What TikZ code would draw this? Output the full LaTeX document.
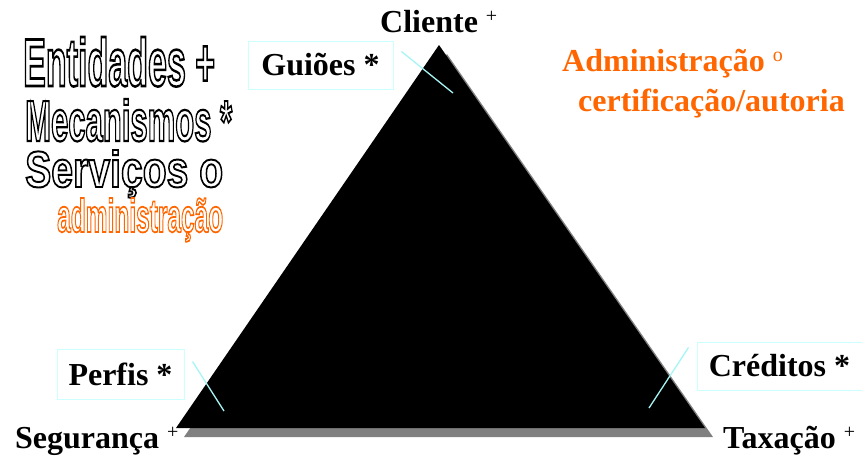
\documentclass[tikz,border=0pt]{standalone}
\usepackage{fontspec}
\setmainfont{Liberation Serif}
\newfontfamily\hollowfont{Liberation Sans}
\usepackage{graphicx}
\definecolor{orangetxt}{HTML}{FF6600}
\definecolor{boxcyan}{HTML}{CCFFFF}
\definecolor{linecyan}{HTML}{A6F5F5}
% small raised mark after a word
\newcommand{\mrk}[1]{\raisebox{10pt}{\fontsize{20}{20}\selectfont\mdseries #1}}
% outlined condensed letters: width, height, text
\newcommand{\hollow}[3]{\resizebox{#1}{#2}{\hollowfont\bfseries\special{pdf:literal direct 1 Tr 0.38 w}#3\special{pdf:literal direct 0 Tr}}}
\tikzset{
	vertex/.style={font=\fontsize{32}{36}\selectfont\bfseries, inner sep=0pt, anchor=base west},
	tagbox/.style={draw=boxcyan, line width=1pt, font=\fontsize{32}{36}\selectfont\bfseries, inner sep=0pt},
	tagline/.style={draw=linecyan, line width=1.3pt},
	hollowtext/.style={inner sep=0pt, anchor=base west}
}
\begin{document}
\begin{tikzpicture}[x=1pt, y=-1pt]
	\useasboundingbox (0,0) rectangle (862,459);
	% corners of the triangle
	\coordinate (C) at (439,45);
	\coordinate (S) at (176,428);
	\coordinate (T) at (705,428);
	\fill[gray] ([shift={(8,9)}]C) -- ([shift={(8,9)}]S) -- ([shift={(8,9)}]T) -- cycle;
	\fill[black] (C) -- (S) -- (T) -- cycle;

	\node[vertex] (cliente) at (380,32) {Cliente \mrk{+}};
	\node[vertex] (seguranca) at (15,448) {Segurança \mrk{+}};
	\node[vertex] (taxacao) at (723,448) {Taxação \mrk{+}};

	% boxes and their lines
	\node[tagbox, minimum width=145pt, minimum height=48pt] (guioes) at (320.5,65) {Guiões *};
	\node[tagbox, minimum width=127pt, minimum height=50pt] (perfis) at (120.5,374) {Perfis *};
	\node[tagbox, minimum width=165pt, minimum height=48pt] (creditos) at (779.5,366) {Créditos *};
	\coordinate (g) at (453,93);
	\coordinate (p) at (224,411);
	\coordinate (c) at (649,408);
	\draw[tagline] ([shift={(8,11)}]guioes.north east) -- (g);
	\draw[tagline] ([shift={(8,13)}]perfis.north east) -- (p);
	\draw[tagline] ([shift={(-8,6)}]creditos.north west) -- (c);

	\node[vertex, text=orangetxt] (admin) at (562,71) {Administração \mrk{o}};
	\node[vertex, text=orangetxt] (autoria) at (578,111) {certificação/autoria};

	% outlined words on the left
	\node[hollowtext] (entidades) at (23,86) {\hollow{192pt}{49pt}{Entidades +}};
	\node[hollowtext] (mecanismos) at (25,141) {\hollow{207pt}{42pt}{Mecanismos *}};
	\node[hollowtext] (servicos) at (25,187) {\hollow{198pt}{37pt}{Serviços o}};
	\node[hollowtext, text=orangetxt] (administracao) at (57,232) {\hollow{166pt}{34pt}{administração}};
\end{tikzpicture}
\end{document}
